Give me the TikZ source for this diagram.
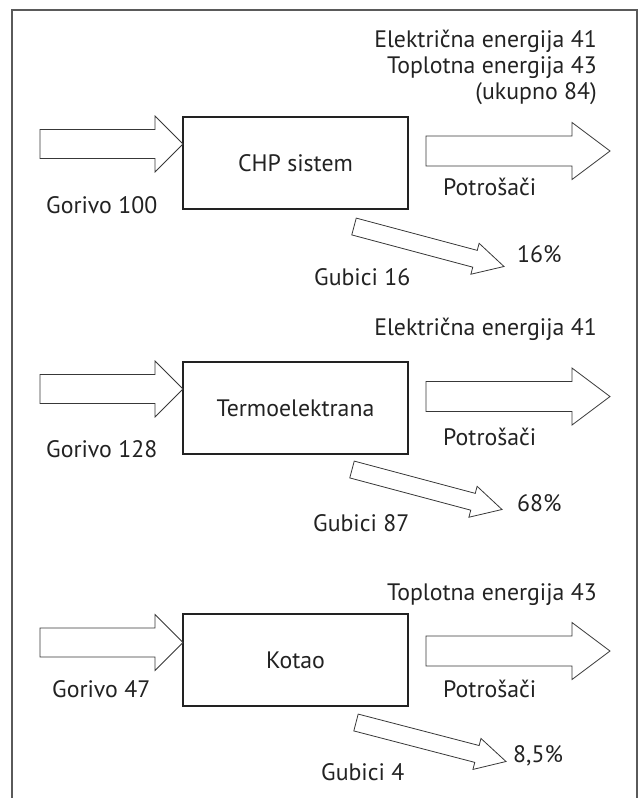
\documentclass[tikz,border=0pt]{standalone}
\usepackage{fontspec}
\setmainfont{PT Sans}
\usetikzlibrary{calc}
\definecolor{ink}{HTML}{222222}
\definecolor{framec}{HTML}{5A5A5A}
\tikzset{
  procbox/.style={draw=ink, line width=1.6pt, minimum width=225pt, minimum height=92pt, inner sep=0pt, text=ink, font=\lblfont},
  blockarrow/.style={draw=ink!90, line width=0.8pt, fill=white, line join=miter},
  lbl/.style={inner sep=0pt, text=ink, font=\lblfont},
}
\newcommand\lblfont{\fontsize{23.8}{28}\selectfont}
% #1 start, #2 tip, #3 shaft half width, #4 head half width, #5 head length
\newcommand\blockarr[5]{%
  \draw[blockarrow] let \p1=($(#2)-(#1)$), \n1={atan2(\y1,\x1)}, \n2={veclen(\x1,\y1)} in
    [shift={(#1)}, rotate=\n1]
    (0,#3) -- ({\n2-#5},#3) -- ({\n2-#5},#4) -- ({\n2},0) -- ({\n2-#5},-#4) -- ({\n2-#5},-#3) -- (0,-#3) -- cycle;}
\begin{document}
\begin{tikzpicture}[x=1pt,y=-1pt]
\useasboundingbox (0,0) rectangle (640,798);
% frame (open at bottom)
\draw[framec, line width=1.5pt] (12,798) -- (12,10) -- (637,10) -- (637,798);

% ---------- section 1 ----------
\node[procbox] (box1) at (295.5,163) {CHP sistem};
\coordinate (in1s) at (40,144);   \coordinate (in1e) at (183,144);
\coordinate (out1s) at (426,151); \coordinate (out1e) at (610,151);
\coordinate (loss1s) at (354,226.5); \coordinate (loss1e) at (504,266.5);
\blockarr{in1s}{in1e}{14.5}{28}{28}
\blockarr{out1s}{out1e}{15}{28.5}{38}
\blockarr{loss1s}{loss1e}{8.7}{16}{30}
\node[lbl, anchor=base east] (e1a) at (597,47) {Električna energija 41};
\node[lbl, anchor=base east] (e1b) at (597,73) {Toplotna energija 43};
\node[lbl, anchor=base east] (e1c) at (597,99) {(ukupno 84)};
\node[lbl, anchor=base west] (g1) at (46,213) {Gorivo 100};
\node[lbl, anchor=base west] (p1) at (443,195) {Potrošači};
\node[lbl, anchor=base west] (pc1) at (517,262) {16\%};
\node[lbl, anchor=base west] (gu1) at (314,285) {Gubici 16};

% ---------- section 2 ----------
\node[procbox] (box2) at (295.5,408) {Termoelektrana};
\coordinate (in2s) at (40,389);   \coordinate (in2e) at (183,389);
\coordinate (out2s) at (426,396.5); \coordinate (out2e) at (610,396.5);
\coordinate (loss2s) at (352,469.5); \coordinate (loss2e) at (502,509.5);
\blockarr{in2s}{in2e}{14.5}{28}{28}
\blockarr{out2s}{out2e}{15}{28.5}{38}
\blockarr{loss2s}{loss2e}{8.7}{16}{30}
\node[lbl, anchor=base east] (e2a) at (597,335) {Električna energija 41};
\node[lbl, anchor=base west] (g2) at (46,457) {Gorivo 128};
\node[lbl, anchor=base west] (p2) at (443,445) {Potrošači};
\node[lbl, anchor=base west] (pc2) at (517,511) {68\%};
\node[lbl, anchor=base west] (gu2) at (313,531) {Gubici 87};

% ---------- section 3 ----------
\node[procbox] (box3) at (295.5,660) {Kotao};
\coordinate (in3s) at (40,642.5);   \coordinate (in3e) at (183,642.5);
\coordinate (out3s) at (426,651); \coordinate (out3e) at (610,651);
\coordinate (loss3s) at (356,722.5); \coordinate (loss3e) at (506,761.5);
\blockarr{in3s}{in3e}{14.5}{28}{28}
\blockarr{out3s}{out3e}{15}{28.5}{38}
\blockarr{loss3s}{loss3e}{8.7}{16}{30}
\node[lbl, anchor=base east] (e3a) at (597,600) {Toplotna energija 43};
\node[lbl, anchor=base west] (g3) at (52,697) {Gorivo 47};
\node[lbl, anchor=base west] (p3) at (443,697) {Potrošači};
\node[lbl, anchor=base west] (pc3) at (513,762) {8,5\%};
\node[lbl, anchor=base west] (gu3) at (321,780) {Gubici 4};
\end{tikzpicture}
\end{document}
